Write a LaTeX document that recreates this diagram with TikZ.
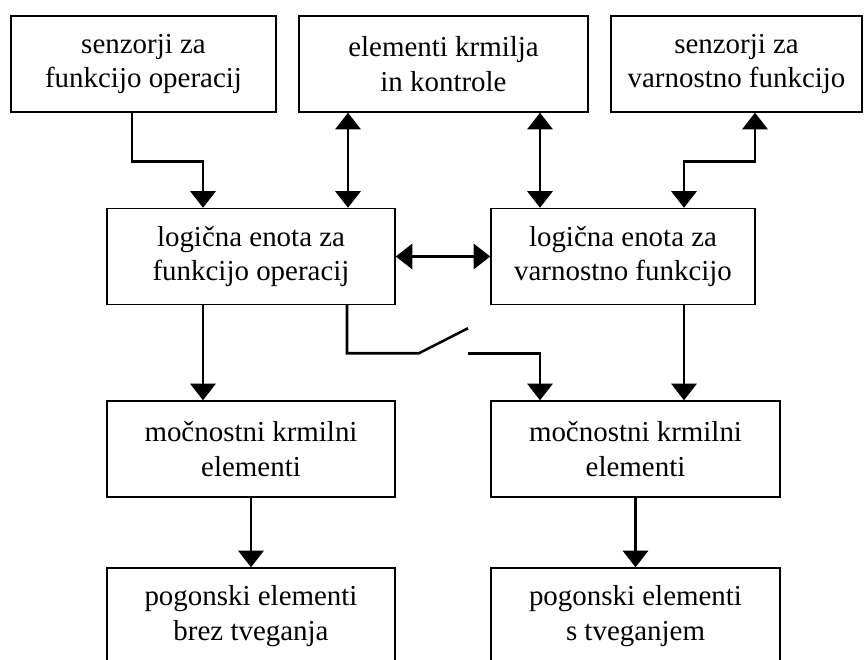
\documentclass[tikz,border=0pt]{standalone}
\usepackage{fontspec}
\setmainfont{Liberation Serif}
\usetikzlibrary{arrows.meta,calc}

\begin{document}
\begin{tikzpicture}[x=0.75pt,y=-0.75pt,
	blok/.style={draw,line width=1.1pt,inner sep=0pt,align=center,minimum height=72pt,font=\fontsize{21.7}{26}\selectfont},
	vod/.style={line width=1.9pt},
	pus/.style={vod,-{Triangle[width=19pt,length=12.5pt]}},
	dpus/.style={vod,{Triangle[width=19pt,length=12.5pt]}-{Triangle[width=19pt,length=12.5pt]}}]
	\useasboundingbox (0,0) rectangle (864,660);
	\clip (0,0) rectangle (864,660);
	% zgornja vrsta
	\node[blok,minimum width=198.75pt] (sfo) at (143.5,64) {senzorji za\\funkcijo operacij};
	\node[blok,minimum width=216.75pt] (ekk) at (443.5,64) {elementi krmilja\\in kontrole};
	\node[blok,minimum width=188.25pt] (svf) at (736.5,64) {senzorji za\\varnostno funkcijo};
	% logicni enoti
	\node[blok,minimum width=216pt] (lfo) at (251,256.5) {logična enota za\\funkcijo operacij};
	\node[blok,minimum width=198pt] (lvf) at (623,256.5) {logična enota za\\varnostno funkcijo};
	% mocnostni elementi
	\node[blok,minimum width=216pt] (mkl) at (251,449) {močnostni krmilni\\elementi};
	\node[blok,minimum width=216.75pt] (mkr) at (635.5,449) {močnostni krmilni\\elementi};
	% pogonski elementi
	\node[blok,minimum width=216pt] (pel) at (251,616) {pogonski elementi\\brez tveganja};
	\node[blok,minimum width=216.75pt] (per) at (635.5,616) {pogonski elementi\\s tveganjem};
	% povezave
	\draw[pus] ($(sfo.south)+(-11.5,0)$) -- ++(0,49) -| ($(lfo.north)+(-48,0)$);
	\draw[dpus] ($(ekk.south)+(-95.5,0)$) -- ($(lfo.north)+(97,0)$);
	\draw[dpus] ($(ekk.south)+(96.5,0)$) -- ($(lvf.north)+(-83,0)$);
	\draw[dpus] ($(svf.south)+(18.5,0)$) -- ++(0,49) -| ($(lvf.north)+(61,0)$);
	\draw[dpus] (lfo.east) -- (lvf.west);
	\draw[pus] ($(lfo.south)+(-48,0)$) -- ($(mkl.north)+(-48,0)$);
	\draw[pus] ($(lvf.south)+(61,0)$) -- ($(mkr.north)+(48.5,0)$);
	% stikalo
	\draw[vod] ($(lfo.south)+(96,0)$) -- ++(0,48) coordinate (swa) -- ++(72,0) -- ++(49,-25) coordinate (swc);
	\draw[pus] (swc |- swa) -| ($(mkr.north)+(-95.5,0)$);
	\draw[pus] (mkl.south) -- (pel.north);
	\draw[pus] (mkr.south) -- (per.north);
\end{tikzpicture}
\end{document}
